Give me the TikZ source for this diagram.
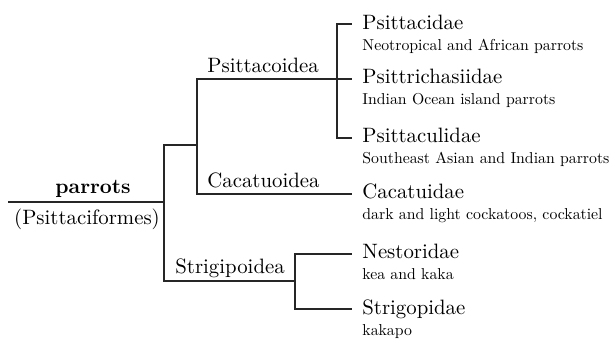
\documentclass[tikz,border=0pt]{standalone}
\usepackage{fontspec}
\setmainfont{lmroman10}[Extension=.otf, UprightFont=*-regular, BoldFont=*-bold, ItalicFont=*-italic, BoldItalicFont=*-bolditalic]
\usetikzlibrary{positioning}

\begin{document}
\begin{tikzpicture}[x=0.5pt, y=-0.5pt,
  branch/.style={line width=0.9pt, black!85},
  clade/.style={inner sep=0pt, anchor=base west, font=\fontsize{10.4}{12}\selectfont},
  fam/.style={inner sep=0pt, anchor=base west, font=\fontsize{10.4}{12}\selectfont},
  note/.style={inner sep=0pt, anchor=base west, font=\fontsize{7.9}{9}\selectfont}
]
  \useasboundingbox (0,0) rectangle (614,339);
  \coordinate (root) at (8,202);
  \coordinate (rj)   at (164,202);
  \coordinate (pcj)  at (197,145);
  \coordinate (bj)   at (337,79);
  \coordinate (stj)  at (295,281);
  \coordinate (psdtip) at (352,24);
  \coordinate (psrtip) at (352,79);
  \coordinate (psltip) at (352,138);
  \coordinate (cattip) at (352,194);
  \coordinate (nestip) at (352,254);
  \coordinate (stgtip) at (352,309);

  \node[clade, anchor=base, font=\fontsize{10.4}{12}\selectfont\bfseries] (ord) at (93,193) {parrots};
  \node[clade, anchor=base] (ordsci) at (87,224) {(Psittaciformes)};
  \node[clade] (psc) at (207,72)  {Psittacoidea};
  \node[clade] (cac) at (207,187) {Cacatuoidea};
  \node[clade] (stg) at (175,273) {Strigipoidea};

  \node[fam] (psd) at (362,29)  {Psittacidae};
  \node[fam] (psr) at (362,83)  {Psittrichasiidae};
  \node[fam] (psl) at (362,142) {Psittaculidae};
  \node[fam] (cat) at (362,198) {Cacatuidae};
  \node[fam] (nes) at (362,258) {Nestoridae};
  \node[fam] (sto) at (362,314) {Strigopidae};
  \node[note] (psdnote) at ([yshift=-10.5pt]psd.base west) {Neotropical and African parrots};
  \node[note] (psrnote) at ([yshift=-10.5pt]psr.base west) {Indian Ocean island parrots};
  \node[note] (pslnote) at ([yshift=-10.5pt]psl.base west) {Southeast Asian and Indian parrots};
  \node[note] (catnote) at ([yshift=-10.5pt]cat.base west) {dark and light cockatoos, cockatiel};
  \node[note] (nesnote) at ([yshift=-10.5pt]nes.base west) {kea and kaka};
  \node[note] (stonote) at ([yshift=-10.5pt]sto.base west) {kakapo};

  \draw[branch] (root) -- (rj);
  \draw[branch] (pcj) -| (rj) |- (stj);
  \draw[branch] (pcj) |- (psrtip);
  \draw[branch] (pcj) |- (cattip);
  \draw[branch] (bj) |- (psdtip);
  \draw[branch] (bj) |- (psltip);
  \draw[branch] (stj) |- (nestip);
  \draw[branch] (stj) |- (stgtip);
\end{tikzpicture}
\end{document}
